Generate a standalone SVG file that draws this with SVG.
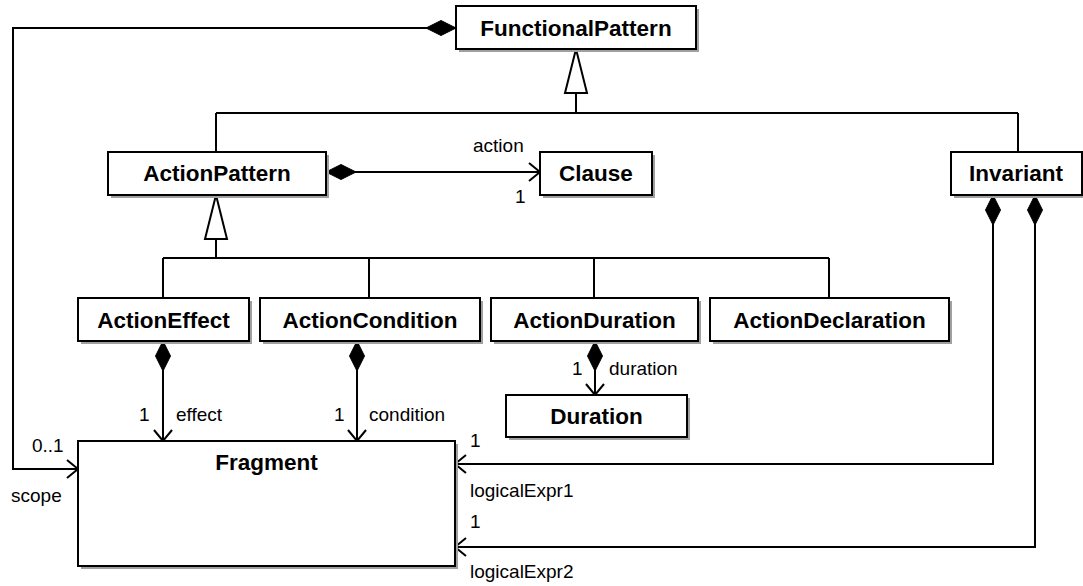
<svg xmlns="http://www.w3.org/2000/svg" width="1083" height="586" viewBox="0 0 1083 586">
<style>
.box{fill:#fff;stroke:#000;stroke-width:2}
.sh{fill:#a0a0a0;stroke:none}
.cn{font-family:"Liberation Sans",Arial,sans-serif;font-weight:bold;font-size:22.5px;text-anchor:middle;fill:#000}
.lb{font-family:"Liberation Sans",Arial,sans-serif;font-size:19px;fill:#000}
.ln{fill:none;stroke:#000;stroke-width:2}
.comp{marker-start:url(#diamond);marker-end:url(#arrow)}
.gen{marker-end:url(#tri)}
</style>
<defs>
<marker id="diamond" markerUnits="userSpaceOnUse" viewBox="-1 -9 33 18" markerWidth="33" markerHeight="18" refX="0" refY="0" orient="auto">
<path d="M0,0 L15,-7.5 L30,0 L15,7.5 Z" fill="#000" stroke="#000" stroke-width="1"/>
</marker>
<marker id="arrow" markerUnits="userSpaceOnUse" viewBox="-13 -11 15 22" markerWidth="15" markerHeight="22" refX="0" refY="0" orient="auto">
<path d="M-11,-9 L0,0 L-11,9" fill="none" stroke="#000" stroke-width="2"/>
</marker>
<marker id="tri" markerUnits="userSpaceOnUse" viewBox="-46 -13 48 26" markerWidth="48" markerHeight="26" refX="0" refY="0" orient="auto">
<path d="M0,0 L-44,-11 L-44,11 Z" fill="#fff" stroke="#000" stroke-width="2"/>
</marker>
</defs>
<rect width="1083" height="586" fill="#fff"/>
<g id="connectors">
<path class="ln" d="M216,113 H1018 M216,113 V152 M1018,113 V152"/>
<path class="ln gen" d="M576,113 V49"/>
<path class="ln" d="M163,258 H829 M163,258 V298 M369,258 V298 M594,258 V298 M829,258 V298"/>
<path class="ln gen" d="M216,258 V195"/>
<path class="ln comp" d="M326,172 H540"/>
<path class="ln comp" d="M456,28 H13 V469 H78"/>
<path class="ln comp" d="M163,341 V441"/>
<path class="ln comp" d="M357,341 V441"/>
<path class="ln comp" d="M595,341 V395"/>
<path class="ln comp" d="M993,195 V464 H455"/>
<path class="ln comp" d="M1035,195 V547 H455"/>
<text class="lb" x="473" y="152">action</text>
<text class="lb" x="515" y="203">1</text>
<text class="lb" x="32" y="452">0..1</text>
<text class="lb" x="11" y="502">scope</text>
<text class="lb" x="139" y="421">1</text>
<text class="lb" x="176" y="421">effect</text>
<text class="lb" x="334" y="421">1</text>
<text class="lb" x="369" y="421">condition</text>
<text class="lb" x="572" y="375">1</text>
<text class="lb" x="609" y="375">duration</text>
<text class="lb" x="470" y="447">1</text>
<text class="lb" x="470" y="497">logicalExpr1</text>
<text class="lb" x="470" y="528">1</text>
<text class="lb" x="470" y="578">logicalExpr2</text>
</g>
<g id="FunctionalPattern"><rect class="sh" x="459" y="9" width="240" height="43"/><rect class="box" x="456" y="6" width="240" height="43"/><text class="cn" x="576" y="36">FunctionalPattern</text></g>
<g id="ActionPattern"><rect class="sh" x="111" y="155" width="218" height="43"/><rect class="box" x="108" y="152" width="218" height="43"/><text class="cn" x="217" y="181">ActionPattern</text></g>
<g id="Clause"><rect class="sh" x="543" y="155" width="112" height="43"/><rect class="box" x="540" y="152" width="112" height="43"/><text class="cn" x="596" y="181">Clause</text></g>
<g id="Invariant"><rect class="sh" x="954" y="155" width="131" height="43"/><rect class="box" x="951" y="152" width="131" height="43"/><text class="cn" x="1016" y="181">Invariant</text></g>
<g id="ActionEffect"><rect class="sh" x="81" y="301" width="171" height="43"/><rect class="box" x="78" y="298" width="171" height="43"/><text class="cn" x="163.5" y="328">ActionEffect</text></g>
<g id="ActionCondition"><rect class="sh" x="263" y="301" width="220" height="43"/><rect class="box" x="260" y="298" width="220" height="43"/><text class="cn" x="370" y="328">ActionCondition</text></g>
<g id="ActionDuration"><rect class="sh" x="494" y="301" width="207" height="43"/><rect class="box" x="491" y="298" width="207" height="43"/><text class="cn" x="594.5" y="328">ActionDuration</text></g>
<g id="ActionDeclaration"><rect class="sh" x="713" y="301" width="239" height="43"/><rect class="box" x="710" y="298" width="239" height="43"/><text class="cn" x="829.5" y="328">ActionDeclaration</text></g>
<g id="Duration"><rect class="sh" x="509" y="398" width="181" height="42"/><rect class="box" x="506" y="395" width="181" height="42"/><text class="cn" x="596.5" y="424">Duration</text></g>
<g id="Fragment"><rect class="sh" x="81" y="444" width="377" height="125"/><rect class="box" x="78" y="441" width="377" height="125"/><text class="cn" x="266.5" y="470">Fragment</text></g>
</svg>
